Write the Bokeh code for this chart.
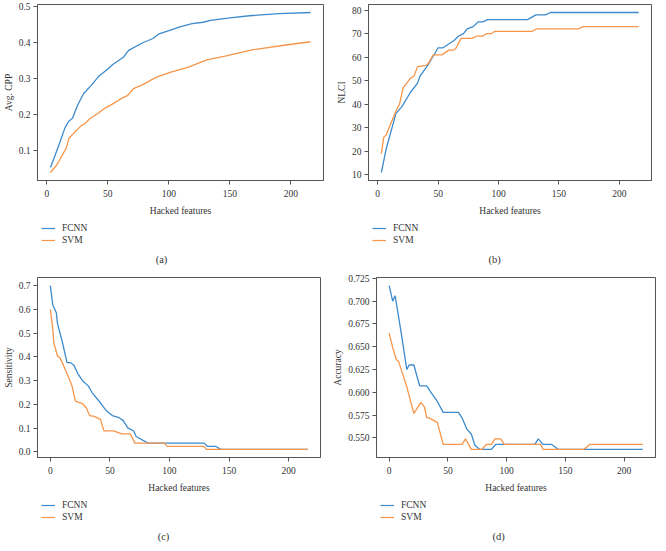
from bokeh.plotting import figure
from bokeh.layouts import column, row
from bokeh.models import Range1d, FixedTicker, PrintfTickFormatter, Legend
from bokeh.core.properties import value
from bokeh.embed import file_html
from bokeh.resources import INLINE

# ---------------- data ----------------
x_ticks = [0, 50, 100, 150, 200]

a_x_fcnn = [3, 9, 15, 18, 21, 25, 30, 36, 43, 48, 54, 63, 67, 79, 87, 92, 100, 109, 119, 128, 134, 150, 166, 190, 216]
a_fcnn = [0.054, 0.108, 0.165, 0.182, 0.19, 0.225, 0.258, 0.28, 0.308, 0.321, 0.339, 0.36, 0.378, 0.40, 0.411,
          0.424, 0.433, 0.443, 0.452, 0.456, 0.461, 0.468, 0.474, 0.48, 0.483]
a_x_svm = [3, 8, 16, 18, 24, 28, 31, 35, 42, 47, 54, 60, 66, 71, 79, 86, 92, 101, 116, 131, 147, 169, 196, 216]
a_svm = [0.040, 0.06, 0.108, 0.134, 0.156, 0.169, 0.175, 0.188, 0.204, 0.217, 0.23, 0.243, 0.253, 0.272, 0.284,
         0.297, 0.307, 0.317, 0.332, 0.352, 0.363, 0.38, 0.393, 0.402]
a_yticks = [0.1, 0.2, 0.3, 0.4, 0.5]

b_x_fcnn = [3, 7, 15, 20, 27, 33, 35, 42, 50, 54, 63, 67, 71, 74, 79, 83, 87, 91, 124, 131, 139, 143, 216]
b_fcnn = [11, 21, 36, 39, 45, 49, 52, 57, 64, 64, 67, 69, 70, 72, 73, 75, 75, 76, 76, 78, 78, 79, 79]
b_x_svm = [3, 5, 7, 15, 18, 21, 27, 30, 33, 40, 42, 46, 53, 59, 63, 65, 69, 78, 82, 87, 90, 94, 97, 128, 131,
           166, 170, 216]
b_svm = [19, 26, 27, 37, 40, 47, 51, 52, 56, 56.5, 57.5, 61, 61, 63, 63, 64, 68, 68, 69, 69, 70, 70, 71, 71, 72,
         72, 73, 73]
b_yticks = [10, 20, 30, 40, 50, 60, 70, 80]

c_x_fcnn = [0, 2, 5, 6, 10, 14, 17, 20, 23, 27, 32, 35, 42, 47, 52, 57, 61, 65, 70, 72, 82, 129, 132, 139, 143, 216]
c_fcnn = [0.70, 0.62, 0.586, 0.54, 0.464, 0.376, 0.376, 0.363, 0.33, 0.30, 0.277, 0.25, 0.207, 0.173, 0.153,
          0.146, 0.133, 0.101, 0.088, 0.065, 0.037, 0.037, 0.023, 0.023, 0.011, 0.011]
c_x_svm = [0, 2, 3, 6, 8, 13, 18, 21, 27, 30, 33, 37, 42, 45, 53, 60, 67, 71, 96, 98, 129, 131, 216]
c_svm = [0.60, 0.52, 0.458, 0.403, 0.397, 0.342, 0.281, 0.214, 0.203, 0.187, 0.153, 0.15, 0.137, 0.089, 0.089,
         0.076, 0.076, 0.037, 0.037, 0.023, 0.023, 0.011, 0.011]
c_yticks = [0.0, 0.1, 0.2, 0.3, 0.4, 0.5, 0.6, 0.7]

d_x_fcnn = [0, 3, 5, 7, 11, 15, 17, 21, 26, 32, 35, 41, 46, 59, 62, 66, 70, 73, 77, 87, 91, 124, 127, 131, 138,
            144, 216]
d_fcnn = [0.717, 0.700, 0.706, 0.691, 0.659, 0.625, 0.630, 0.630, 0.607, 0.607, 0.601, 0.590, 0.578, 0.578,
          0.572, 0.560, 0.554, 0.542, 0.5375, 0.5375, 0.543, 0.543, 0.549, 0.543, 0.543, 0.5375, 0.5375]
d_x_svm = [0, 3, 6, 8, 15, 21, 27, 30, 32, 34, 41, 46, 62, 65, 70, 79, 83, 87, 90, 95, 98, 129, 131, 166, 171, 216]
d_svm = [0.665, 0.649, 0.636, 0.634, 0.606, 0.577, 0.589, 0.584, 0.572, 0.572, 0.567, 0.543, 0.543, 0.549,
         0.5375, 0.5375, 0.543, 0.543, 0.549, 0.549, 0.543, 0.543, 0.5375, 0.5375, 0.543, 0.543]
d_yticks = [0.550, 0.575, 0.600, 0.625, 0.650, 0.675, 0.700, 0.725]

series_names = ["FCNN", "SVM"]
x_label = "Hacked features"
captions = ["(a)", "(b)", "(c)", "(d)"]

# ---------------- style ----------------
FONT = "Liberation Serif"
TXT = "#333333"
BLUE = "#3d8bcd"
ORANGE = "#f7964a"
FRAME = "#555555"


def padded(vals):
    lo, hi = min(vals), max(vals)
    pad = 0.05 * (hi - lo)
    return Range1d(lo - pad, hi + pad)


def panel(xf, yf, xs, ys, ylabel, yticks, fmt, caption, fw, fh, bl, bt, br, foot_h, cap_center):
    p = figure(frame_width=fw, frame_height=fh, min_border_left=bl, min_border_top=bt,
               min_border_right=br, min_border_bottom=0,
               x_range=padded(xf + xs), y_range=padded(yf + ys),
               output_backend="svg", toolbar_location=None)
    p.line(xf, yf, line_color=BLUE, line_width=1.3)
    p.line(xs, ys, line_color=ORANGE, line_width=1.3)
    p.xgrid.visible = False
    p.ygrid.visible = False
    p.outline_line_color = FRAME
    p.outline_line_width = 1
    p.outline_line_alpha = 1
    for ax in (p.xaxis[0], p.yaxis[0]):
        ax.axis_line_color = FRAME
        ax.major_tick_line_color = FRAME
        ax.major_tick_in = 0
        ax.major_tick_out = 4
        ax.minor_tick_line_color = None
        ax.major_label_text_font = FONT
        ax.major_label_text_font_size = "9.5px"
        ax.major_label_text_color = TXT
        ax.axis_label_text_font = FONT
        ax.axis_label_text_font_size = "9.5px"
        ax.axis_label_text_font_style = "normal"
        ax.axis_label_text_color = TXT
    p.yaxis[0].major_label_standoff = 3
    p.yaxis[0].axis_label_standoff = 2
    p.xaxis[0].major_label_standoff = 5
    p.xaxis[0].axis_label_standoff = 6
    p.xaxis[0].ticker = FixedTicker(ticks=x_ticks)
    p.yaxis[0].ticker = FixedTicker(ticks=yticks)
    p.yaxis[0].formatter = PrintfTickFormatter(format=fmt)
    p.xaxis[0].axis_label = x_label
    p.yaxis[0].axis_label = ylabel

    # footer with legend and caption
    f = figure(frame_width=fw, frame_height=foot_h, min_border_left=bl, min_border_right=br,
               min_border_top=0, min_border_bottom=0,
               x_range=Range1d(0, fw), y_range=Range1d(0, foot_h),
               output_backend="svg", toolbar_location=None)
    f.axis.visible = False
    f.xgrid.visible = False
    f.ygrid.visible = False
    f.outline_line_color = None
    # legend proxies: kept outside the visible range, only their legend glyphs show
    l1 = f.line(x=[-20, -10], y=[-20, -20], line_color=BLUE, line_width=1.2)
    l2 = f.line(x=[-20, -10], y=[-20, -20], line_color=ORANGE, line_width=1.2)
    leg = Legend(items=[(series_names[0], [l1]), (series_names[1], [l2])], location="top_left",
                 orientation="vertical", border_line_alpha=0, background_fill_alpha=0,
                 label_text_font=FONT, label_text_font_size="9.5px", label_text_color=TXT,
                 glyph_width=14, glyph_height=12, label_height=12, spacing=0, padding=0, margin=4,
                 label_standoff=7)
    leg.margin = 4
    f.add_layout(leg, "center")
    f.text(x=[cap_center - bl], y=[foot_h - 41], text=[caption], text_align="center",
           text_baseline="middle", text_font=value(FONT), text_font_size="10.5px", text_color=TXT)
    return column(p, f, spacing=0)


pa = panel(a_x_fcnn, a_fcnn, a_x_svm, a_svm, "Avg. CPP", a_yticks, "%.1f", captions[0],
           286, 176, 34, 4, 5, 53, 158)
pb = panel(b_x_fcnn, b_fcnn, b_x_svm, b_svm, "NLCI", b_yticks, "%d", captions[1],
           283, 176, 40, 4, 2, 53, 166)
pc = panel(c_x_fcnn, c_fcnn, c_x_svm, c_svm, "Sensitivity", c_yticks, "%.1f", captions[2],
           283, 180, 32, 6, 10, 50, 158)
pd_ = panel(d_x_fcnn, d_fcnn, d_x_svm, d_svm, "Accuracy", d_yticks, "%.3f", captions[3],
            279, 180, 44, 6, 2, 50, 166)

layout = column(row(pa, pb, spacing=0), row(pc, pd_, spacing=0), spacing=0)
open("out.html", "w").write(file_html(layout, INLINE))
